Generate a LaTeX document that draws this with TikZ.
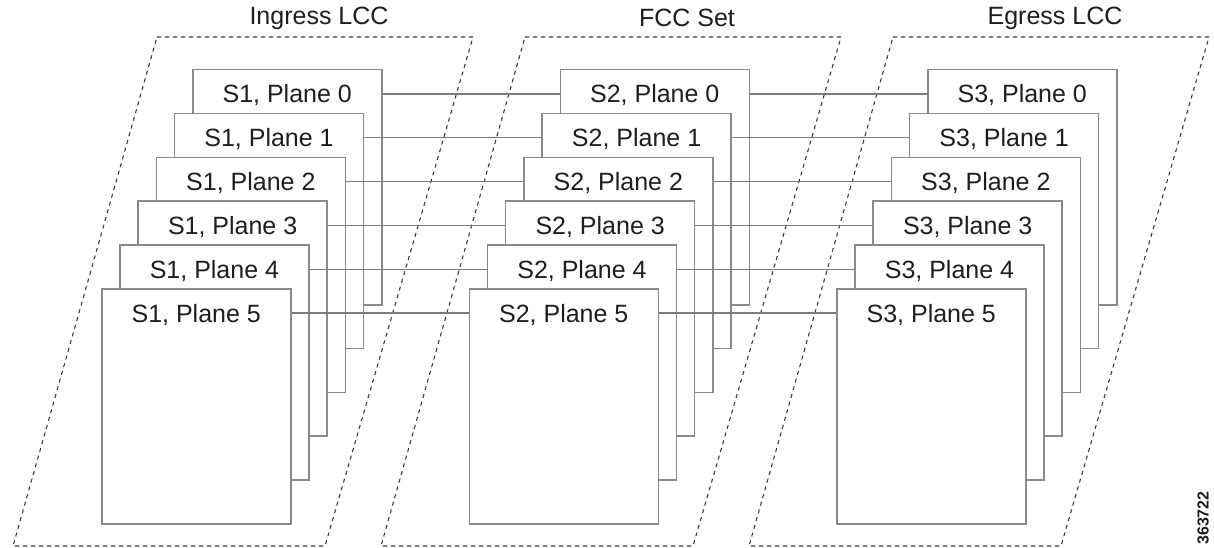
\documentclass[tikz,border=0pt]{standalone}
\usepackage{fontspec}
\setmainfont{Liberation Sans}
\usetikzlibrary{calc}
\definecolor{boxline}{HTML}{8A8A8A}
\definecolor{linkline}{HTML}{7C7C7C}
\definecolor{frameline}{HTML}{3A3A3A}
\definecolor{txt}{HTML}{1E1E1E}

\begin{document}
\begin{tikzpicture}[
  x=1pt, y=-1pt,
  plane/.style={draw=boxline, fill=white, line width=1.5pt, anchor=north west, minimum width=189pt, minimum height=235pt, inner sep=0pt},
  planetext/.style={font=\fontsize{25}{30}\selectfont, text=txt, text height=18pt, text depth=0pt, inner sep=0pt},
  title/.style={font=\fontsize{25}{30}\selectfont, text=txt},
  link/.style={draw=linkline, line width=1.4pt},
  frame/.style={draw=frameline, line width=1.1pt, dash pattern=on 4pt off 4pt},
]
\useasboundingbox (0,0) rectangle (1214,548);

% dashed chassis outlines
\foreach \g in {0,1,2} {
  \draw[frame] (157+368*\g,37) -- (473+368*\g,37) -- (325+368*\g,546) -- (13+368*\g,546) -- cycle;
}

\node[title] (ingress) at (319,18) {Ingress LCC};
\node[title] (fcc) at (687,18) {FCC Set};
\node[title] (egress) at (1055,18) {Egress LCC};

% planes, back to front
\foreach \g [evaluate=\g as \gx using {192+367.5*(\g-1)}] in {1,2,3} {
  \foreach \p [evaluate=\p as \px using {\gx-18.2*\p}, evaluate=\p as \py using {69+43.8*\p}] in {0,...,5} {
    \node[plane] (s\g p\p) at (\px,\py) {};
    \node[planetext] (t\g p\p) at ([yshift=-25pt]s\g p\p.north) {S\g, Plane \p};
  }
}

% plane to plane links
\foreach \p in {0,...,5} {
  \draw[link] (s1p\p.east |- t1p\p) -- (s2p\p.west |- t2p\p);
  \draw[link] (s2p\p.east |- t2p\p) -- (s3p\p.west |- t3p\p);
}

\node[font=\bfseries\fontsize{16}{18}\selectfont, rotate=90, text=txt] (figid) at (1203,518) {363722};

\end{tikzpicture}
\end{document}
